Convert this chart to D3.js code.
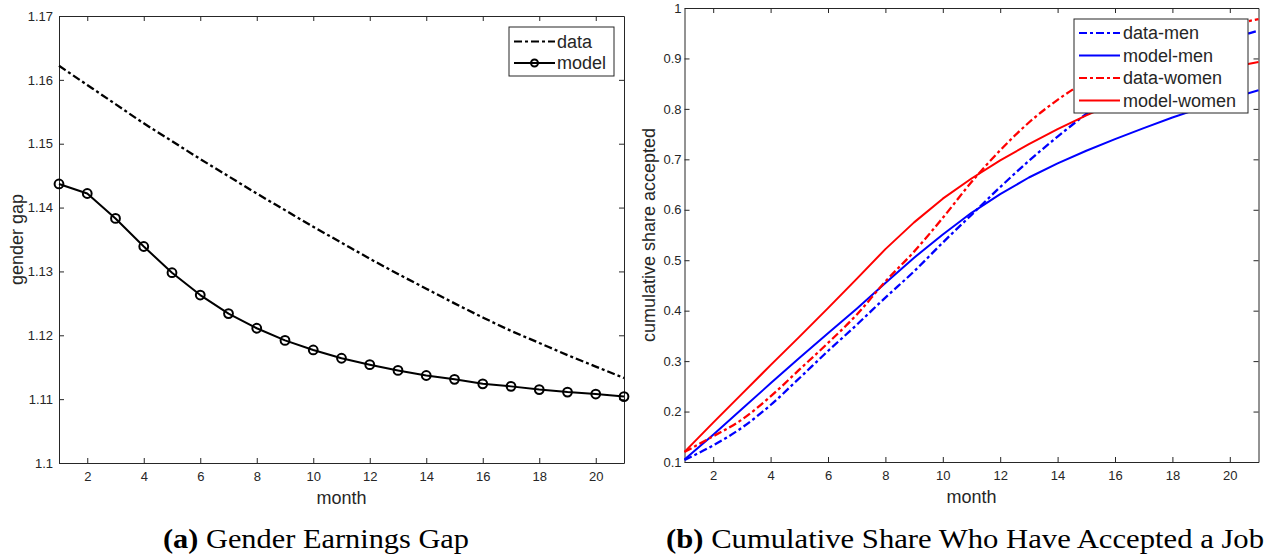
<!DOCTYPE html>
<html>
<head>
<meta charset="utf-8">
<script src="https://cdn.jsdelivr.net/npm/d3@7"></script>
<style>
  body { margin: 0; background: #fff; }
  svg { display: block; }
  text { font-family: "Liberation Sans", Arial, Helvetica, sans-serif; fill: #262626; }
  .caption text { font-family: "Liberation Serif", "Times New Roman", serif; fill: #000; }
</style>
</head>
<body>
<svg id="fig" width="1266" height="556"></svg>
<script>
// Months since start of search
const months = d3.range(1, 22);
const monthTicks = [2, 4, 6, 8, 10, 12, 14, 16, 18, 20];

// Panel (a): gender earnings gap
const gapTicks = [1.1, 1.11, 1.12, 1.13, 1.14, 1.15, 1.16, 1.17];
const gapData = [1.1622, 1.1592, 1.1562, 1.1532, 1.1504, 1.1476, 1.1449, 1.1422, 1.1396, 1.1370,
                 1.1345, 1.1320, 1.1296, 1.1273, 1.1250, 1.1228, 1.1207, 1.1188, 1.1169, 1.1151, 1.1133];
const gapModel = [1.1437, 1.1422, 1.1383, 1.1339, 1.1298, 1.1263, 1.1234, 1.1211, 1.1192, 1.1177,
                  1.1164, 1.1154, 1.1145, 1.1137, 1.1131, 1.1124, 1.1120, 1.1115, 1.1111, 1.1108, 1.1104];

// Panel (b): cumulative share who have accepted a job
const shareTicks = [0.1, 0.2, 0.3, 0.4, 0.5, 0.6, 0.7, 0.8, 0.9, 1];
const menData = [0.104, 0.133, 0.168, 0.213, 0.266, 0.320, 0.372, 0.426, 0.478, 0.535,
                 0.590, 0.645, 0.697, 0.745, 0.790, 0.832, 0.866, 0.895, 0.918, 0.938, 0.955];
const menModel = [0.105, 0.154, 0.205, 0.256, 0.306, 0.355, 0.404, 0.455, 0.505, 0.551,
                  0.594, 0.631, 0.664, 0.692, 0.717, 0.740, 0.762, 0.783, 0.802, 0.820, 0.837];
const womenData = [0.120, 0.151, 0.184, 0.230, 0.283, 0.336, 0.392, 0.458, 0.517, 0.584,
                   0.655, 0.718, 0.773, 0.818, 0.855, 0.887, 0.913, 0.935, 0.952, 0.966, 0.978];
const womenModel = [0.120, 0.178, 0.235, 0.292, 0.348, 0.405, 0.463, 0.522, 0.575, 0.622,
                    0.662, 0.698, 0.730, 0.760, 0.787, 0.812, 0.834, 0.853, 0.869, 0.882, 0.893];

const svg = d3.select("#fig");
const AX = "#262626";
const DASHDOT = "8,3,3,3";

function drawPanel(o) {
  const x = d3.scaleLinear().domain([1, 21]).range([o.left, o.right]);
  const y = d3.scaleLinear().domain(o.yDomain).range([o.bottom, o.top]);
  const g = svg.append("g");

  const styleAxis = sel => {
    sel.select(".domain").attr("stroke", AX).attr("stroke-width", 1);
    sel.selectAll(".tick line").attr("stroke", AX).attr("stroke-width", 1);
    sel.selectAll(".tick text").attr("fill", AX).style("font-size", "13px")
       .style("font-family", "'Liberation Sans', Arial, sans-serif");
  };

  g.append("g").attr("transform", `translate(0,${o.bottom})`)
    .call(d3.axisBottom(x).tickValues(monthTicks).tickSizeInner(-5).tickSizeOuter(0).tickPadding(9))
    .call(styleAxis);
  g.append("g").attr("transform", `translate(0,${o.top})`)
    .call(d3.axisTop(x).tickValues(monthTicks).tickSizeInner(-5).tickSizeOuter(0).tickFormat(""))
    .call(styleAxis);
  g.append("g").attr("transform", `translate(${o.left},0)`)
    .call(d3.axisLeft(y).tickValues(o.yTicks).tickSizeInner(-5).tickSizeOuter(0)
      .tickPadding(o.yPad).tickFormat(o.yFormat))
    .call(styleAxis);
  g.append("g").attr("transform", `translate(${o.right},0)`)
    .call(d3.axisRight(y).tickValues(o.yTicks).tickSizeInner(-5).tickSizeOuter(0).tickFormat(""))
    .call(styleAxis);

  // axis titles
  g.append("text")
    .attr("x", (o.left + o.right) / 2).attr("y", o.bottom + 41)
    .attr("text-anchor", "middle").style("font-size", "18px").text("month");
  g.append("text")
    .attr("transform", `translate(${o.yLabelX},${(o.top + o.bottom) / 2}) rotate(-90)`)
    .attr("text-anchor", "middle").attr("dy", "0.35em").style("font-size", "18px").text(o.yLabel);

  // series
  const line = d3.line().x((d, i) => x(months[i])).y(d => y(d));
  o.series.forEach(s => {
    g.append("path").datum(s.values)
      .attr("fill", "none").attr("stroke", s.color).attr("stroke-width", s.dash ? 2.3 : 2)
      .attr("stroke-dasharray", s.dash || null)
      .attr("stroke-linejoin", "round")
      .attr("d", line.curve(s.smooth ? d3.curveMonotoneX : d3.curveLinear));
    if (s.marker) {
      g.append("g").selectAll("circle").data(s.values).join("circle")
        .attr("cx", (d, i) => x(months[i])).attr("cy", d => y(d)).attr("r", 4.4)
        .attr("fill", "none").attr("stroke", s.color).attr("stroke-width", 2);
    }
  });

  // legend
  const L = o.legend;
  const lg = g.append("g");
  lg.append("rect").attr("x", L.x).attr("y", L.y).attr("width", L.w).attr("height", L.h)
    .attr("fill", "#fff").attr("stroke", AX).attr("stroke-width", 1);
  o.series.forEach((s, i) => {
    const cy = L.y + L.first + i * L.step;
    lg.append("line").attr("x1", L.x + L.l0).attr("x2", L.x + L.l1).attr("y1", cy).attr("y2", cy)
      .attr("stroke", s.color).attr("stroke-width", 2.2).attr("stroke-dasharray", s.dash || null);
    if (s.marker) {
      lg.append("circle").attr("cx", L.x + (L.l0 + L.l1) / 2).attr("cy", cy).attr("r", 3.5)
        .attr("fill", "none").attr("stroke", s.color).attr("stroke-width", 2);
    }
    lg.append("text").attr("x", L.x + L.tx).attr("y", cy).attr("dy", "0.35em")
      .style("font-size", "18px").text(s.name);
  });
}

drawPanel({
  left: 59, right: 624, top: 16, bottom: 463,
  yDomain: [1.1, 1.17], yTicks: gapTicks, yPad: 6,
  yFormat: d => String(+d.toFixed(2)),
  yLabel: "gender gap", yLabelX: 17,
  series: [
    { name: "data", values: gapData, color: "#000", dash: DASHDOT, smooth: true },
    { name: "model", values: gapModel, color: "#000", marker: true }
  ],
  legend: { x: 509, y: 27, w: 105, h: 49, first: 14.5, step: 21.5, l0: 5, l1: 46, tx: 48 }
});

drawPanel({
  left: 684.5, right: 1258.5, top: 8, bottom: 462,
  yDomain: [0.1, 1], yTicks: shareTicks, yPad: 3,
  yFormat: d => String(+d.toFixed(1)),
  yLabel: "cumulative share accepted", yLabelX: 649,
  series: [
    { name: "data-men", values: menData, color: "#0000ff", dash: DASHDOT, smooth: true },
    { name: "model-men", values: menModel, color: "#0000ff" },
    { name: "data-women", values: womenData, color: "#ff0000", dash: DASHDOT, smooth: true },
    { name: "model-women", values: womenModel, color: "#ff0000" }
  ],
  legend: { x: 1074, y: 19, w: 174, h: 94, first: 14, step: 22.5, l0: 5, l1: 46, tx: 49 }
});

// sub-figure captions
const cap = svg.append("g").attr("class", "caption");
[
  { cx: 316, label: "(a)", title: " Gender Earnings Gap", len: 306 },
  { cx: 965, label: "(b)", title: " Cumulative Share Who Have Accepted a Job", len: 598 }
].forEach(c => {
  const t = cap.append("text").attr("x", c.cx).attr("y", 548).attr("text-anchor", "middle")
    .attr("textLength", c.len).attr("lengthAdjust", "spacingAndGlyphs")
    .style("font-size", "28px");
  t.append("tspan").style("font-weight", "bold").text(c.label);
  t.append("tspan").text(c.title);
});
</script>
</body>
</html>
